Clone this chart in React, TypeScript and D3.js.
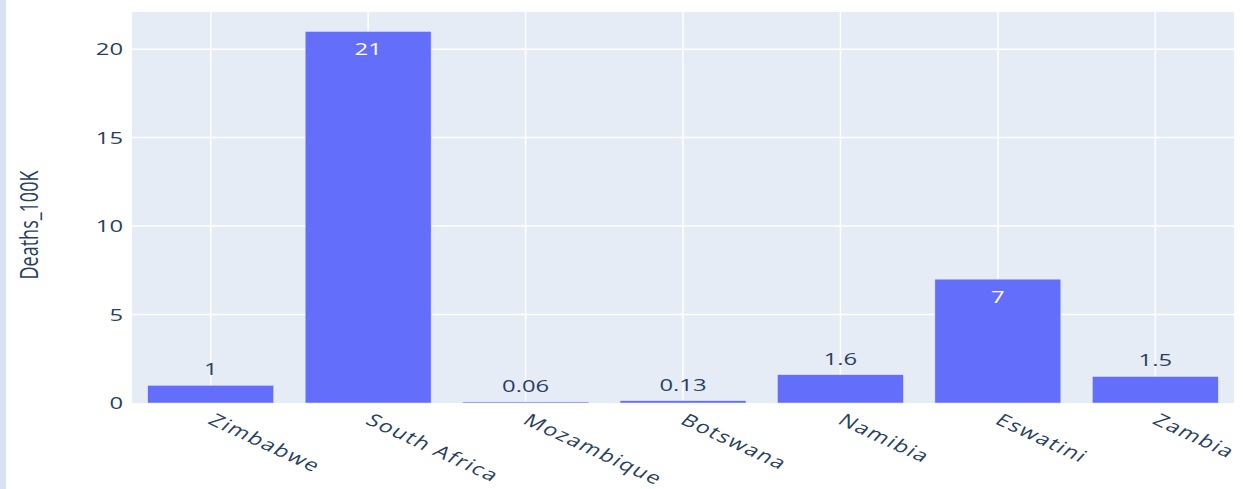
import React from 'react';
import * as d3 from 'd3';

// Deaths per 100K by country
const countries = ['Zimbabwe', 'South Africa', 'Mozambique', 'Botswana', 'Namibia', 'Eswatini', 'Zambia'];
const deaths100k = [1, 21, 0.06, 0.13, 1.6, 7, 1.5];
const yTicks = [0, 5, 10, 15, 20];

const W = 1243;
const H = 489;
const plot = { left: 132, right: 1234, top: 12, bottom: 403 };
const textColor = '#2a3f5f';
const font = "'Open Sans', 'Noto Sans', sans-serif";
const sx = 1.4; // the picture is stretched sideways

export default function App() {
  const x = d3.scaleBand<string>()
    .domain(countries)
    .range([plot.left, plot.right])
    .paddingInner(0.2)
    .paddingOuter(0.1);
  const y = d3.scaleLinear().domain([0, 22.1]).range([plot.bottom, plot.top]);
  const center = (c: string) => (x(c) as number) + x.bandwidth() / 2;

  return (
    <svg width={W} height={H} style={{ position: 'absolute', left: 0, top: 0, background: '#fff' }}>
      <rect x={0} y={0} width={6} height={H} fill="#d9e2f3" />
      <rect x={plot.left} y={plot.top} width={plot.right - plot.left} height={plot.bottom - plot.top} fill="#e5ecf6" />
      {/* grid */}
      {countries.map((c) => (
        <line key={c} x1={center(c)} x2={center(c)} y1={plot.top} y2={plot.bottom} stroke="#fff" strokeWidth={1.5} />
      ))}
      {yTicks.filter((t) => t > 0).map((t) => (
        <line key={t} x1={plot.left} x2={plot.right} y1={y(t)} y2={y(t)} stroke="#fff" strokeWidth={1.5} />
      ))}
      {/* bars */}
      {countries.map((c, i) => (
        <rect key={c} x={x(c)} y={y(deaths100k[i])} width={x.bandwidth()}
          height={Math.max(plot.bottom - y(deaths100k[i]), 1)}
          fill="#636efa" stroke="#e5ecf6" strokeWidth={0.5} />
      ))}
      {/* value labels */}
      {countries.map((c, i) => {
        const v = deaths100k[i];
        const inside = v > 5;
        const ty = inside ? y(v) + 24 : y(v) - 10;
        return (
          <text key={c} transform={`translate(${center(c)},${ty}) scale(${sx},1)`}
            textAnchor="middle" fontFamily={font} fontSize={17}
            fill={inside ? '#fff' : textColor}>{String(v)}</text>
        );
      })}
      {/* y tick labels */}
      {yTicks.map((t) => (
        <text key={t} transform={`translate(${plot.left - 9},${y(t) + 6}) scale(${sx},1)`}
          textAnchor="end" fontFamily={font} fontSize={17} fill={textColor}>{t}</text>
      ))}
      {/* x tick labels */}
      {countries.map((c) => (
        <text key={c} transform={`translate(${center(c) - 4},${plot.bottom + 20}) scale(${sx},1) rotate(33)`}
          textAnchor="start" fontFamily={font} fontSize={17} fill={textColor}
          letterSpacing={1.1}>{c}</text>
      ))}
      {/* y axis title */}
      <text transform={`translate(38,225) rotate(-90) scale(1,${sx})`}
        textAnchor="middle" fontFamily={font} fontSize={18} fill={textColor}>Deaths_100K</text>
    </svg>
  );
}
